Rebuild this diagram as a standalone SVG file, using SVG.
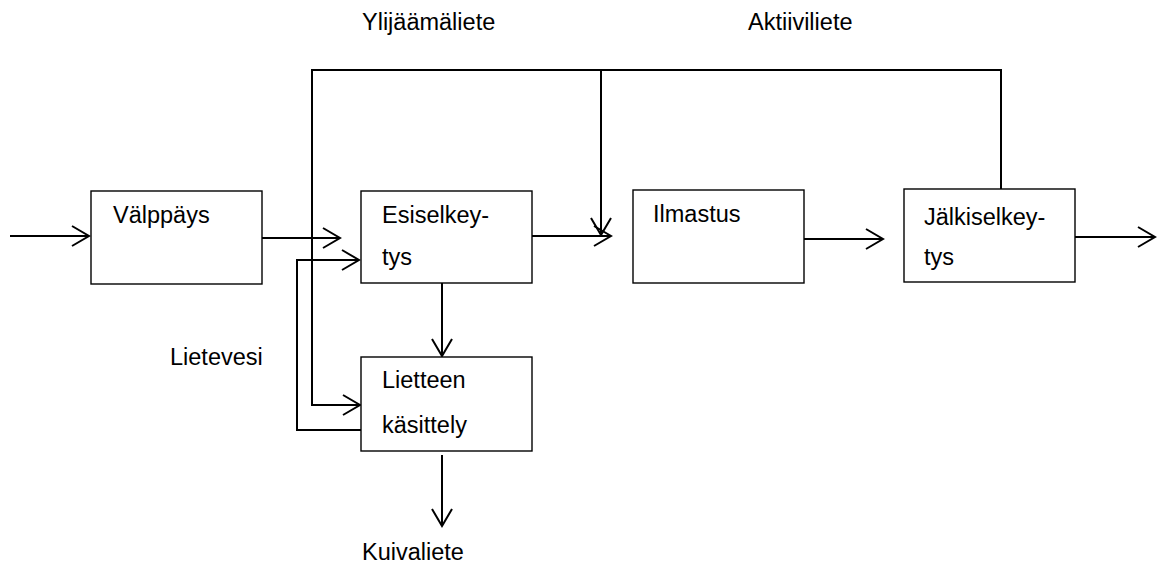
<svg xmlns="http://www.w3.org/2000/svg" width="1157" height="565" viewBox="0 0 1157 565">
<style>
.box{fill:#fff;stroke:#000;stroke-width:1.4}
.ln{fill:none;stroke:#000;stroke-width:2}
text{font-family:"Liberation Sans",Arial,sans-serif;font-size:23.5px;fill:#000}
</style>
<defs>
<marker id="ah" markerUnits="userSpaceOnUse" markerWidth="40" markerHeight="40" viewBox="-20 -20 40 40" refX="0" refY="0" orient="auto">
<path d="M-17,-10 L0,0 L-17,10" fill="none" stroke="#000" stroke-width="2"/>
</marker>
</defs>
<rect width="1157" height="565" fill="#fff"/>
<g id="connectors">
<line class="ln" x1="10" y1="236" x2="89" y2="236" marker-end="url(#ah)"/>
<line class="ln" x1="262" y1="238" x2="340" y2="238" marker-end="url(#ah)"/>
<polyline class="ln" points="1001,189 1001,70 312,70 312,405 360,405" marker-end="url(#ah)"/>
<line class="ln" x1="601" y1="70" x2="601" y2="235" marker-end="url(#ah)"/>
<line class="ln" x1="532" y1="236" x2="611" y2="236" marker-end="url(#ah)"/>
<polyline class="ln" points="361,430 297,430 297,260 359,260" marker-end="url(#ah)"/>
<line class="ln" x1="442" y1="283" x2="442" y2="356" marker-end="url(#ah)"/>
<line class="ln" x1="442" y1="455" x2="442" y2="526" marker-end="url(#ah)"/>
<line class="ln" x1="804" y1="239" x2="883" y2="239" marker-end="url(#ah)"/>
<line class="ln" x1="1075" y1="237" x2="1155" y2="237" marker-end="url(#ah)"/>
</g>
<g id="valppays"><rect class="box" x="91" y="191" width="171" height="93"/><text x="113" y="223">Välppäys</text></g>
<g id="esiselkeytys"><rect class="box" x="361" y="191" width="171" height="92"/><text x="382" y="223">Esiselkey-</text><text x="382" y="265">tys</text></g>
<g id="lietteen"><rect class="box" x="361" y="357" width="171" height="94"/><text x="382" y="388">Lietteen</text><text x="382" y="433">käsittely</text></g>
<g id="ilmastus"><rect class="box" x="633" y="190" width="171" height="93"/><text x="653" y="222">Ilmastus</text></g>
<g id="jalkiselkeytys"><rect class="box" x="904" y="189" width="171" height="93"/><text x="924" y="225">Jälkiselkey-</text><text x="924" y="265">tys</text></g>
<g id="labels">
<text x="362" y="30">Ylijäämäliete</text>
<text x="748" y="30">Aktiiviliete</text>
<text x="170" y="365">Lietevesi</text>
<text x="362" y="560">Kuivaliete</text>
</g>
</svg>
